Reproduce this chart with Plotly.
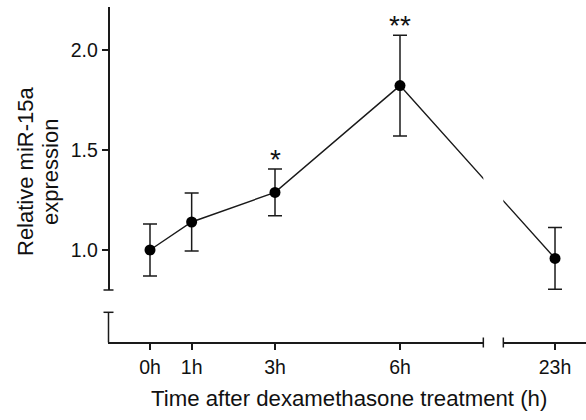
import plotly.graph_objects as go

# ---- data ----
hours = [0, 1, 3, 6, 23]
hour_labels = ["0h", "1h", "3h", "6h", "23h"]
mean_expr = [1.00, 1.14, 1.288, 1.822, 0.958]
sem_expr = [0.13, 0.145, 0.117, 0.252, 0.154]
significance = ["", "", "*", "**", ""]
y_ticks = [1.0, 1.5, 2.0]

x_title = "Time after dexamethasone treatment (h)"
y_title_lines = ["Relative miR-15a", "expression"]

# ---- broken x scale (display units) ----
LEFT_RANGE = [-1.0, 8.0]      # hours shown on the left segment
RIGHT_START_H = 17.0          # first hour shown after the break
GAP = 0.48                    # display gap of the break
RIGHT_SCALE = 0.2067          # compression of the right segment


def to_display(h):
    if h <= LEFT_RANGE[1]:
        return h
    return LEFT_RANGE[1] + GAP + (h - RIGHT_START_H) * RIGHT_SCALE


xd = [to_display(h) for h in hours]
right_range = [LEFT_RANGE[1] + GAP, LEFT_RANGE[1] + GAP + 1.984]

W, H = 586, 420
FONT = "Arial, Liberation Sans, sans-serif"
INK = "#1a1a1a"


def px(x):
    return x / W


def py(y):
    return 1 - y / H


fig = go.Figure()
for xa in ["x", "x2"]:
    fig.add_trace(go.Scatter(
        x=xd, y=mean_expr, xaxis=xa, yaxis="y",
        mode="lines+markers",
        line=dict(color=INK, width=1.4),
        marker=dict(color="black", size=11),
        error_y=dict(type="data", array=sem_expr, visible=True,
                     color=INK, thickness=1.5, width=7),
        showlegend=False, hoverinfo="skip",
    ))

axis_common = dict(showgrid=False, zeroline=False, showline=True,
                   linecolor=INK, linewidth=1.5, ticks="outside",
                   tickcolor=INK, tickwidth=1.5,
                   tickfont=dict(family=FONT, size=19.5, color="#111"))

y_dom = [py(290), py(7)]
fig.update_layout(
    width=W, height=H,
    margin=dict(l=0, r=0, t=0, b=0),
    paper_bgcolor="white", plot_bgcolor="white",
    xaxis=dict(domain=[px(108.33), px(483.33)], range=LEFT_RANGE,
               anchor="free", position=py(342.5), ticklen=7,
               tickvals=xd[:4], ticktext=hour_labels[:4], **axis_common),
    xaxis2=dict(domain=[px(503.33), 1.0], range=right_range,
                anchor="free", position=py(342.5), ticklen=7,
                tickvals=xd[4:], ticktext=hour_labels[4:], **axis_common),
    yaxis=dict(domain=y_dom, range=[0.8, 0.8 + (y_dom[1] - y_dom[0]) * H / 200],
               anchor="free", position=px(108.5), ticklen=6,
               tickvals=y_ticks, tickformat=".1f", **axis_common),
)

# axis break decorations
seg = dict(type="line", xref="paper", yref="paper",
           line=dict(color=INK, width=1.5))
shapes = [
    dict(x0=px(108.5), x1=px(108.5), y0=py(312.3), y1=py(342.5), **seg),
    dict(x0=px(103.5), x1=px(113.5), y0=py(290), y1=py(290), **seg),
    dict(x0=px(103.5), x1=px(113.5), y0=py(312.3), y1=py(312.3), **seg),
    dict(x0=px(483.33), x1=px(483.33), y0=py(337.5), y1=py(347.5), **seg),
    dict(x0=px(503.33), x1=px(503.33), y0=py(337.5), y1=py(347.5), **seg),
]
fig.update_layout(shapes=shapes)

annotations = []
for x, m, s, sig in zip(xd, mean_expr, sem_expr, significance):
    if sig:
        annotations.append(dict(
            x=x, y=m + s, xref="x", yref="y", text=sig, showarrow=False,
            yanchor="bottom", yshift=-8,
            font=dict(family=FONT, size=28, color="#111")))
annotations.append(dict(
    x=px(349), y=py(398), xref="paper", yref="paper", text=x_title,
    showarrow=False, xanchor="center", yanchor="middle",
    font=dict(family=FONT, size=22.2, color="#111")))
for i, (line, cx) in enumerate(zip(y_title_lines, [25, 50])):
    annotations.append(dict(
        x=px(cx), y=py(172), xref="paper", yref="paper", text=line,
        showarrow=False, textangle=-90, xanchor="center", yanchor="middle",
        font=dict(family=FONT, size=22, color="#111")))
fig.update_layout(annotations=annotations)

fig.write_html("out.html")
